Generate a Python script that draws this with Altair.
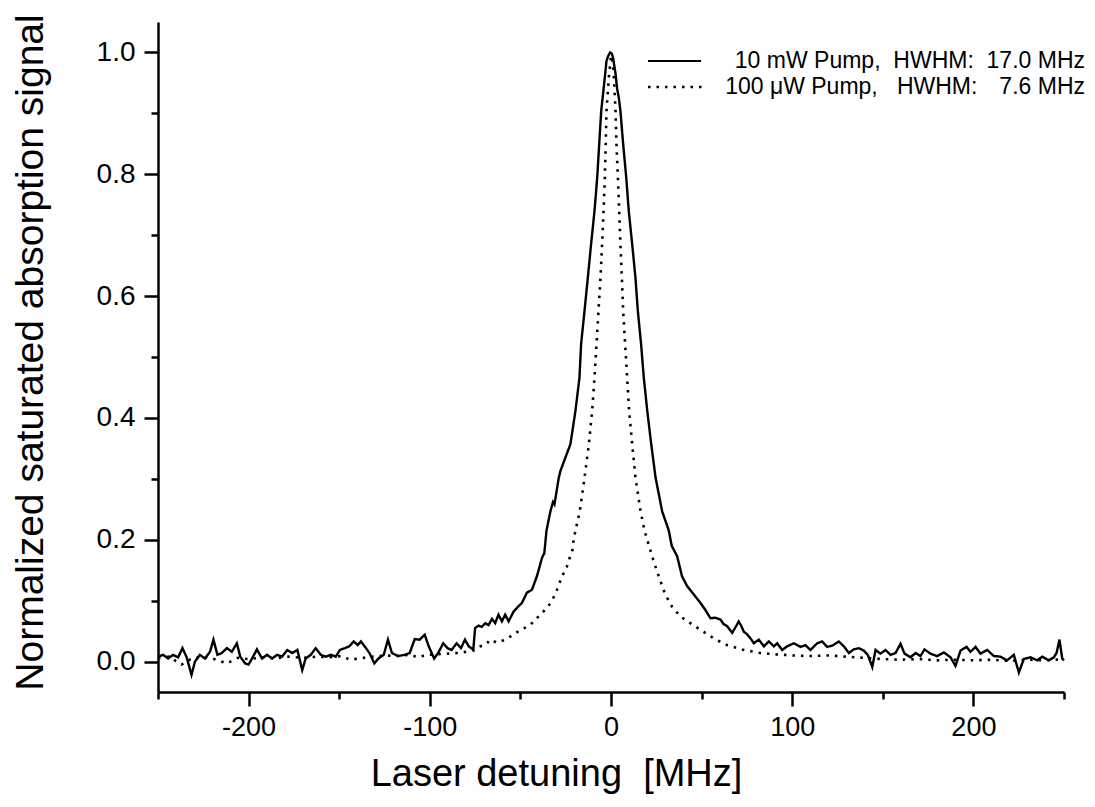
import altair as alt
import pandas as pd

# ---- data ----
solid_x = [-250.0, -247.2, -244.4, -241.7, -238.9, -236.5, -234.3, -231.5, -229.6, -226.9,
           -224.1, -221.3, -219.4, -217.2, -214.8, -212.0, -209.3, -206.5, -204.6, -201.9,
           -200.0, -198.1, -195.4, -192.6, -189.8, -187.0, -184.3, -181.5, -178.7, -175.9,
           -173.1, -170.4, -168.5, -165.7, -163.0, -160.2, -157.4, -154.6, -151.9, -149.6,
           -146.9, -144.4, -142.0, -139.8, -138.0, -135.7, -133.3, -130.6, -128.3, -125.4,
           -123.1, -120.9, -117.6, -113.9, -111.1, -108.3, -105.6, -102.8, -100.6, -97.6,
           -95.4, -92.6, -90.2, -88.0, -85.2, -82.8, -80.6, -78.5, -77.0, -76.0,
           -75.0, -73.1, -71.3, -69.4, -67.6, -65.7, -63.9, -62.1, -60.2, -58.4,
           -56.5, -53.8, -51.0, -49.2, -46.4, -43.6, -40.9, -38.1, -36.8, -35.6,
           -33.4, -32.0, -31.2, -28.8, -27.9, -22.4, -19.6, -17.4, -16.5, -14.6,
           -12.8, -11.0, -9.1, -7.6, -6.5, -5.4, -3.4, -2.5, -1.6, -0.5,
           0.5, 1.2, 2.5, 3.4, 4.3, 5.2, 6.7, 8.4, 9.8, 11.7,
           13.5, 14.8, 16.6, 18.1, 20.0, 22.2, 24.6, 28.2, 31.9, 33.5,
           36.5, 39.2, 42.0, 45.7, 49.4, 52.0, 54.9, 57.5, 60.4, 62.0,
           64.1, 66.9, 69.0, 70.5, 72.0, 73.3, 75.0, 77.0, 78.8, 81.6,
           84.4, 87.1, 89.9, 91.7, 94.5, 97.2, 100.9, 104.6, 107.3, 110.1,
           113.8, 116.5, 119.3, 122.1, 125.7, 128.5, 131.3, 134.0, 136.8, 139.5,
           141.7, 144.2, 146.0, 148.7, 151.5, 154.3, 157.0, 159.8, 162.0, 165.3,
           168.1, 170.8, 173.0, 176.3, 180.0, 183.7, 187.4, 190.1, 192.9, 196.2,
           198.4, 201.2, 203.9, 207.6, 211.3, 214.9, 218.6, 222.3, 225.1, 227.8,
           231.5, 235.2, 238.0, 241.6, 244.4, 245.9, 247.5, 249.0, 250.0]
solid_y = [0.008, 0.011, 0.005, 0.011, 0.007, 0.022, 0.008, -0.022, 0.000, 0.011,
           0.005, 0.016, 0.036, 0.011, 0.014, 0.022, 0.016, 0.030, 0.008, -0.003,
           -0.005, 0.005, 0.020, 0.005, 0.011, 0.005, 0.011, 0.008, 0.019, 0.014,
           0.019, -0.014, 0.005, 0.011, 0.022, 0.011, 0.008, 0.011, 0.008, 0.019,
           0.022, 0.025, 0.033, 0.027, 0.033, 0.024, 0.014, -0.003, 0.005, 0.011,
           0.036, 0.014, 0.009, 0.011, 0.014, 0.037, 0.036, 0.044, 0.025, 0.005,
           0.014, 0.030, 0.022, 0.019, 0.030, 0.022, 0.036, 0.025, 0.022, 0.019,
           0.055, 0.059, 0.057, 0.063, 0.060, 0.070, 0.063, 0.077, 0.066, 0.077,
           0.066, 0.082, 0.091, 0.096, 0.113, 0.118, 0.140, 0.170, 0.178, 0.215,
           0.247, 0.262, 0.258, 0.302, 0.313, 0.357, 0.412, 0.466, 0.521, 0.576,
           0.630, 0.685, 0.740, 0.795, 0.850, 0.904, 0.959, 0.986, 0.994, 1.000,
           0.998, 0.990, 0.965, 0.940, 0.926, 0.904, 0.850, 0.795, 0.740, 0.685,
           0.630, 0.576, 0.521, 0.466, 0.412, 0.357, 0.302, 0.247, 0.215, 0.190,
           0.173, 0.140, 0.124, 0.110, 0.096, 0.085, 0.071, 0.072, 0.069, 0.062,
           0.058, 0.047, 0.058, 0.066, 0.058, 0.049, 0.045, 0.038, 0.030, 0.036,
           0.025, 0.033, 0.025, 0.030, 0.019, 0.025, 0.030, 0.024, 0.027, 0.019,
           0.030, 0.033, 0.024, 0.026, 0.033, 0.025, 0.014, 0.020, 0.022, 0.018,
           0.011, -0.009, 0.019, 0.013, 0.019, 0.011, 0.014, 0.029, 0.013, 0.007,
           0.014, 0.009, 0.020, 0.013, 0.009, 0.015, 0.007, -0.007, 0.018, 0.024,
           0.016, 0.024, 0.013, 0.019, 0.009, 0.008, 0.002, 0.011, -0.018, 0.004,
           0.007, 0.002, 0.008, 0.002, 0.007, 0.014, 0.036, 0.005, 0.002]

dotted_x = [-250, -244, -237, -232, -226, -220, -212, -206, -200, -192,
            -185, -178, -170, -162, -155, -149, -144, -139, -132, -125,
            -118, -112, -106, -102, -96, -90, -85, -80, -75, -72,
            -69, -66.7, -63, -60, -55.6, -53, -50, -47, -44.6, -42,
            -39, -35.4, -32.6, -29.8, -27, -24.3, -22.5, -21.4, -20.6, -19.6,
            -17.2, -14.6, -12.2, -10.4, -9.1, -8.0, -6.9, -5.8, -4.9, -4.1,
            -3.4, -2.9, -2.5, -1.2, 0.0, 0.8, 1.6, 2.5, 3.0, 3.8,
            4.5, 5.2, 6.0, 6.7, 7.8, 8.9, 10.0, 11.7, 13.5, 16.3,
            18.5, 20.8, 22.7, 25.4, 27.3, 30.0, 33.7, 38.3, 43.8, 49.4,
            56.7, 64.0, 73.3, 82.5, 90, 100, 110, 120, 130, 140,
            150, 160, 170, 180, 190, 200, 210, 220, 230, 240, 250]
dotted_y = [0.006, 0.008, -0.005, 0.004, 0.008, 0.005, -0.003, 0.006, 0.004, 0.007,
            0.005, 0.008, 0.006, 0.008, 0.007, 0.009, 0.003, 0.005, 0.008, 0.010,
            0.009, 0.011, 0.007, 0.011, 0.012, 0.013, 0.014, 0.016, 0.020, 0.025,
            0.028, 0.036, 0.031, 0.034, 0.041, 0.046, 0.052, 0.056, 0.060, 0.068,
            0.077, 0.088, 0.099, 0.118, 0.140, 0.156, 0.173, 0.182, 0.200, 0.215,
            0.247, 0.302, 0.357, 0.412, 0.466, 0.521, 0.576, 0.630, 0.685, 0.740,
            0.795, 0.850, 0.904, 0.959, 0.995, 0.985, 0.959, 0.904, 0.850, 0.795,
            0.740, 0.685, 0.630, 0.576, 0.521, 0.466, 0.412, 0.357, 0.302, 0.247,
            0.215, 0.192, 0.173, 0.148, 0.132, 0.110, 0.090, 0.074, 0.063, 0.052,
            0.038, 0.027, 0.019, 0.014, 0.012, 0.010, 0.009, 0.010, 0.008, 0.006,
            0.004, 0.003, 0.004, 0.002, 0.003, 0.002, 0.003, 0.001, 0.003, 0.002, 0.004]

legend_labels = ["10 mW Pump,\u00a0\u00a0HWHM:\u00a0\u00a017.0 MHz",
                 "100 \u03bcW Pump,\u00a0\u00a0\u00a0HWHM:\u00a0\u00a0\u2009\u20097.6 MHz"]
x_major = [-200, -100, 0, 100, 200]
x_minor = [-250, -150, -50, 50, 150, 250]
y_major = [0.0, 0.2, 0.4, 0.6, 0.8, 1.0]
y_minor = [0.1, 0.3, 0.5, 0.7, 0.9]
x_title = "Laser detuning\u00a0\u00a0[MHz]"
y_title = "Normalized saturated absorption signal"

FONT = "Liberation Sans"
W, H = 906, 670

solid_df = pd.DataFrame({"x": solid_x, "y": solid_y})
dotted_df = pd.DataFrame({"x": dotted_x, "y": dotted_y})
one = pd.DataFrame({"k": [0]})

xscale = alt.Scale(domain=[-250, 250], nice=False, zero=False)
yscale = alt.Scale(domain=[-0.05, 1.05], nice=False, zero=False)

common_axis = dict(domainColor="black", domainWidth=2.5, tickColor="black", tickWidth=2.5,
                   grid=False, labelFont=FONT, labelColor="black", titleFont=FONT,
                   titleColor="black", titleFontWeight="normal")

x_axis_major = alt.Axis(values=x_major, tickSize=14, labelFontSize=27, labelPadding=8,
                        labelExpr="'' + datum.value", title=x_title, titleFontSize=38,
                        titleX=398, titleY=93, titleBaseline="alphabetic", orient="bottom",
                        **common_axis)
y_axis_major = alt.Axis(values=y_major, tickSize=14, labelFontSize=28, labelPadding=9,
                        labelExpr="format(datum.value, '.1f')", title=y_title, titleFontSize=39,
                        titleX=-128, titleY=330, titleBaseline="middle", orient="left",
                        **common_axis)
x_axis_minor = alt.Axis(values=x_minor, tickSize=7, labels=False, domain=False, title=None,
                        orient="bottom", ticks=True, grid=False, tickColor="black", tickWidth=2.5)
y_axis_minor = alt.Axis(values=y_minor, tickSize=7, labels=False, domain=False, title=None,
                        orient="left", ticks=True, grid=False, tickColor="black", tickWidth=2.5)

solid = alt.Chart(solid_df).mark_line(color="black", strokeWidth=2.4).encode(
    x=alt.X("x:Q", scale=xscale, axis=x_axis_major),
    y=alt.Y("y:Q", scale=yscale, axis=y_axis_major),
)
dotted = alt.Chart(dotted_df).mark_line(color="black", strokeWidth=2.6, strokeDash=[2.5, 6]).encode(
    x=alt.X("x:Q", scale=xscale, axis=x_axis_minor),
    y=alt.Y("y:Q", scale=yscale, axis=y_axis_minor),
)

leg_solid = alt.Chart(one).mark_rule(color="black", strokeWidth=2.2).encode(
    x=alt.value(490), x2=alt.value(543), y=alt.value(39))
leg_dot = alt.Chart(one).mark_rule(color="black", strokeWidth=2.4, strokeDash=[2.5, 6]).encode(
    x=alt.value(490), x2=alt.value(547), y=alt.value(65))
leg_t1 = alt.Chart(one).mark_text(align="right", baseline="middle", font=FONT, fontSize=23,
                                  color="black").encode(
    x=alt.value(927), y=alt.value(39), text=alt.value(legend_labels[0]))
leg_t2 = alt.Chart(one).mark_text(align="right", baseline="middle", font=FONT, fontSize=23,
                                  color="black").encode(
    x=alt.value(927), y=alt.value(65), text=alt.value(legend_labels[1]))

chart = alt.layer(solid, dotted, leg_solid, leg_dot, leg_t1, leg_t2).resolve_axis(
    x="independent", y="independent"
).properties(
    width=W, height=H,
    autosize=alt.AutoSizeParams(type="none"),
    padding={"left": 150, "top": 14, "right": 23, "bottom": 102},
    background="white",
).configure_view(stroke=None)

chart.save("out.html", embed_options={"renderer": "svg", "actions": False})
